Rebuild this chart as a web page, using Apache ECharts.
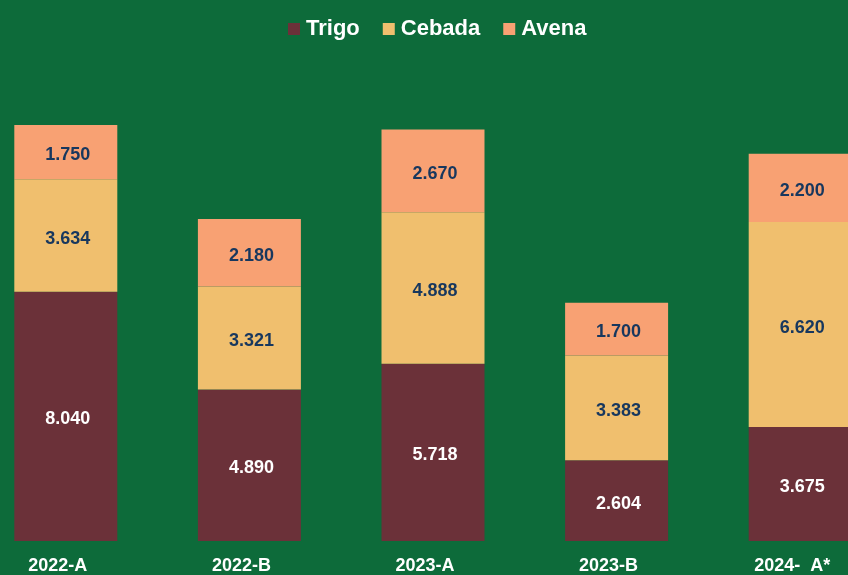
<!DOCTYPE html>
<html>
<head>
<meta charset="utf-8">
<script src="https://cdn.jsdelivr.net/npm/echarts@6/dist/echarts.min.js"></script>
<style>
  html, body { margin: 0; padding: 0; background: #0D6B3A; overflow: hidden; }
  body { width: 848px; height: 575px; position: relative; }
  /* the plot runs past both page edges, as in the original crop */
  #chart { position: absolute; left: -26px; top: 0; width: 918px; height: 575px; }
</style>
</head>
<body>
<div id="chart"></div>
<script>
const categories = ['2022-A', '2022-B', '2023-A', '2023-B', '2024-  A*'];
const trigo = [8040, 4890, 5718, 2604, 3675];
const cebada = [3634, 3321, 4888, 3383, 6620];
const avena = [1750, 2180, 2670, 1700, 2200];

const fmt = v => v.toLocaleString('de-DE');

function seriesOf(name, data, color, textColor) {
  return {
    name,
    type: 'bar',
    stack: 'total',
    data,
    barWidth: 103,
    itemStyle: { color },
    label: {
      show: true,
      position: 'inside',
      offset: [2, 3],
      formatter: p => fmt(p.value),
      color: textColor,
      fontSize: 18,
      fontWeight: 'bold',
      fontFamily: 'Liberation Sans, Arial, sans-serif'
    }
  };
}

const chart = echarts.init(document.getElementById('chart'));
chart.setOption({
  backgroundColor: '#0D6B3A',
  animation: false,
  legend: {
    top: 18,
    left: 314,
    padding: 0,
    itemWidth: 12,
    itemHeight: 12,
    itemGap: 23,
    icon: 'rect',
    textStyle: {
      color: '#ffffff',
      fontSize: 22,
      fontWeight: 'bold',
      fontFamily: 'Liberation Sans, Arial, sans-serif',
      padding: [0, 0, 0, 1]
    }
  },
  grid: { left: 0, right: 0, top: 60, bottom: 33, containLabel: false },
  xAxis: {
    type: 'category',
    data: categories,
    axisLine: { show: false },
    axisTick: { show: false },
    axisLabel: {
      color: '#ffffff',
      fontSize: 18,
      fontWeight: 'bold',
      fontFamily: 'Liberation Sans, Arial, sans-serif',
      margin: 16,
      padding: [0, 16, 0, 0],
      interval: 0
    }
  },
  yAxis: {
    type: 'value',
    min: 0,
    max: 15522,
    show: false,
    splitLine: { show: false }
  },
  series: [
    seriesOf('Trigo', trigo, '#6B3139', '#ffffff'),
    seriesOf('Cebada', cebada, '#F0BF6E', '#17375E'),
    seriesOf('Avena', avena, '#F8A173', '#17375E')
  ]
});
</script>
</body>
</html>
